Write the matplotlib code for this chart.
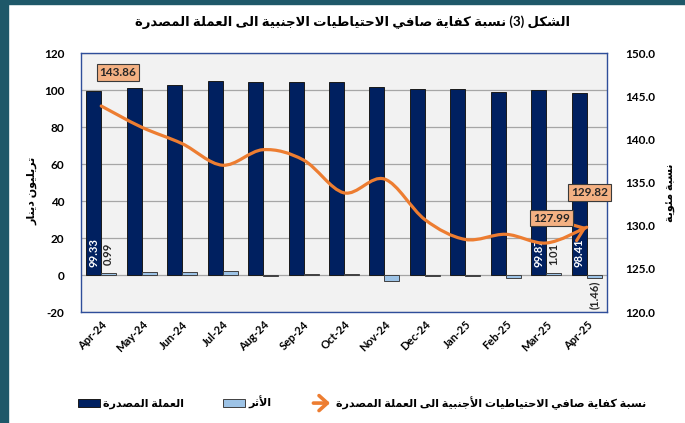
import numpy as np
import matplotlib
matplotlib.use('Agg')
import matplotlib.pyplot as plt
from matplotlib.path import Path
from matplotlib.patches import PathPatch, Rectangle, FancyArrowPatch
from matplotlib.legend_handler import HandlerBase

plt.rcParams['font.family'] = ['Lato', 'DejaVu Sans']
plt.rcParams['axes.unicode_minus'] = False

# ---------------- datos ----------------
meses = ['Apr-24', 'May-24', 'Jun-24', 'Jul-24', 'Aug-24', 'Sep-24', 'Oct-24',
         'Nov-24', 'Dec-24', 'Jan-25', 'Feb-25', 'Mar-25', 'Apr-25']
moneda = [99.33, 101.2, 102.6, 104.6, 104.3, 104.3, 104.3,
          101.5, 100.5, 100.4, 98.9, 99.87, 98.41]
efecto = [0.99, 1.6, 1.6, 2.0, -0.5, 0.3, 0.3,
          -3.0, -0.8, -0.4, -1.5, 1.01, -1.46]
ratio = [143.86, 141.4, 139.5, 137.0, 138.8, 137.6, 133.8,
         135.4, 130.7, 128.4, 129.0, 127.99, 129.82]

titulo = 'الشكل (3) نسبة كفاية صافي الاحتياطيات الاجنبية الى العملة المصدرة'
eje_izq = 'تريليون دينار'
eje_der = 'نسبة مئوية'
leyenda = ['العملة المصدرة', 'الأثر',
           'نسبة كفاية صافي الاحتياطيات الأجنبية الى العملة المصدرة']

# ---------------- arabe (formas de presentacion + orden visual) ----------------
dual = {'ئ': 0xFE89, 'ب': 0xFE8F, 'ت': 0xFE95, 'ث': 0xFE99, 'ج': 0xFE9D, 'ح': 0xFEA1,
        'خ': 0xFEA5, 'س': 0xFEB1, 'ش': 0xFEB5, 'ص': 0xFEB9, 'ض': 0xFEBD, 'ط': 0xFEC1,
        'ظ': 0xFEC5, 'ع': 0xFEC9, 'غ': 0xFECD, 'ف': 0xFED1, 'ق': 0xFED5, 'ك': 0xFED9,
        'ل': 0xFEDD, 'م': 0xFEE1, 'ن': 0xFEE5, 'ه': 0xFEE9, 'ي': 0xFEF1}
derecha = {'آ': 0xFE81, 'أ': 0xFE83, 'ؤ': 0xFE85, 'إ': 0xFE87, 'ا': 0xFE8D, 'ة': 0xFE93,
           'د': 0xFEA9, 'ذ': 0xFEAB, 'ر': 0xFEAD, 'ز': 0xFEAF, 'و': 0xFEED, 'ى': 0xFEEF}
lamalef = {'آ': 0xFEF5, 'أ': 0xFEF7, 'إ': 0xFEF9, 'ا': 0xFEFB}


def ar(texto):
    c = list(texto)
    n = len(c)
    out = []
    i = 0
    while i < n:
        prev = c[i-1] if i > 0 else ''
        liga_prev = prev in dual
        if c[i] == 'ل' and i+1 < n and c[i+1] in lamalef:
            out.append(chr(lamalef[c[i+1]] + (1 if liga_prev else 0)))
            i += 2
            continue
        if c[i] in dual:
            nxt = c[i+1] if i+1 < n else ''
            liga_sig = nxt in dual or nxt in derecha
            forma = 3 if (liga_prev and liga_sig) else 2 if liga_sig else 1 if liga_prev else 0
            out.append(chr(dual[c[i]] + forma))
        elif c[i] in derecha:
            out.append(chr(derecha[c[i]] + (1 if liga_prev else 0)))
        else:
            out.append(c[i])
        i += 1
    return ''.join(reversed(out)).translate(str.maketrans('()', ')('))


class FlechaHandler(HandlerBase):
    def create_artists(self, legend, orig_handle, xd, yd, w, h, fs, trans):
        a = FancyArrowPatch((-xd, h/2 - yd), (w - xd, h/2 - yd),
                            arrowstyle='->,head_length=0.5,head_width=0.45',
                            mutation_scale=12, lw=2.6, color='#ED7D31',
                            transform=trans)
        return [a]


naranja = '#ED7D31'
azul = '#002060'
celeste = '#9DC3E6'

fig = plt.figure(figsize=(6.85, 4.23), dpi=100)
fig.patches.append(Rectangle((0, 0), 8/685, 1, transform=fig.transFigure,
                             color='#1E5869', zorder=0))
fig.patches.append(Rectangle((0, 1 - 4/423), 1, 4/423, transform=fig.transFigure,
                             color='#1E5869', zorder=0))

ax = fig.add_axes([81/685, 111/423, 526/685, 259/423])
ax2 = ax.twinx()
ax.set_zorder(1)
ax2.set_zorder(2)
ax.set_facecolor('#F2F2F2')
ax2.patch.set_visible(False)

x = np.arange(len(meses))
w = 0.37
ax.bar(x - w/2, moneda, w, color=azul, edgecolor='#1a1a1a', lw=0.7, zorder=3)
ax.bar(x + w/2, efecto, w, color=celeste, edgecolor='#404040', lw=0.7, zorder=3)

ax.set_ylim(-20, 120)
ax.set_yticks(np.arange(-20, 121, 20))
ax.set_xlim(-0.5, len(meses) - 0.5)
ax.set_xticks(x)
ax.set_xticklabels(meses, rotation=45, ha='right', rotation_mode='anchor',
                   fontsize=8, fontweight='bold')
ax.grid(axis='y', color='#A6A6A6', lw=0.9, zorder=0)
ax.tick_params(axis='both', length=0)
ax.tick_params(axis='y', labelsize=8.5, pad=12)
ax.tick_params(axis='x', pad=5)
for t in ax.get_yticklabels():
    t.set_fontweight('bold')
for s in ax.spines.values():
    s.set_color('#2F4E9A')
    s.set_linewidth(1.0)

ax2.set_ylim(120, 150)
ax2.set_yticks(np.arange(120, 151, 5))
ax2.set_yticklabels(['%.1f' % v for v in np.arange(120, 151, 5)],
                    fontsize=8.5, fontweight='bold')
ax2.tick_params(axis='y', length=0, pad=13)
for s in ax2.spines.values():
    s.set_visible(False)

# curva suavizada (bezier tipo catmull-rom) con flecha al final
pts = np.column_stack([x, ratio])
verts = [pts[0]]
codes = [Path.MOVETO]
for i in range(len(pts) - 1):
    p0 = pts[i-1] if i > 0 else pts[i]
    p3 = pts[i+2] if i + 2 < len(pts) else pts[i+1]
    c1 = pts[i] + (pts[i+1] - p0) / 6
    c2 = pts[i+1] - (p3 - pts[i]) / 6
    verts += [c1, c2, pts[i+1]]
    codes += [Path.CURVE4] * 3
ax2.add_patch(PathPatch(Path(verts, codes), fill=False, ec=naranja, lw=2.3,
                        capstyle='round', zorder=5))
ax2.annotate('', xy=pts[-1], xytext=verts[-2],
             arrowprops=dict(arrowstyle='->,head_length=0.6,head_width=0.45',
                             color=naranja, lw=2.3, mutation_scale=14,
                             shrinkA=0, shrinkB=0), zorder=6)

caja = dict(boxstyle='square,pad=0.25', fc='#F4B183', ec='#3a3a3a', lw=0.8)
for i, off in [(0, (12, 24)), (11, (4, 18)), (12, (2, 25))]:
    ax2.annotate('%.2f' % ratio[i], xy=(x[i], ratio[i]), xytext=off,
                 textcoords='offset points', ha='center', va='center',
                 fontsize=8.5, fontweight='bold', color='#262626', bbox=caja,
                 zorder=7)

# etiquetas de barras
for i in [0, 11, 12]:
    ax.annotate('%.2f' % moneda[i], xy=(x[i] - w/2, 0), xytext=(0, 6),
                textcoords='offset points', rotation=90, ha='center', va='bottom',
                fontsize=8, fontweight='bold', color='white', zorder=4)
for i in [0, 11]:
    ax.annotate('%.2f' % efecto[i], xy=(x[i] + w/2, 0), xytext=(0, 7),
                textcoords='offset points', rotation=90, ha='center', va='bottom',
                fontsize=8, fontweight='bold', color='#262626', zorder=4)
ax.annotate('(%.2f)' % abs(efecto[12]), xy=(x[12] + w/2, efecto[12]), xytext=(0, -2),
            textcoords='offset points', rotation=90, ha='center', va='top',
            fontsize=8, fontweight='bold', color='#262626', zorder=4)

fig.text(353/685, 1 - 22/423, ar(titulo), ha='center', va='center',
         fontsize=9.5, fontweight='bold')
fig.text(32/685, 1 - 191/423, ar(eje_izq), rotation=90, ha='center', va='center',
         fontsize=8, fontweight='bold')
fig.text(670/685, 1 - 193/423, ar(eje_der), rotation=90, ha='center', va='center',
         fontsize=8, fontweight='bold')

h1 = Rectangle((0, 0), 1, 1, fc=azul, ec='#1a1a1a', lw=0.7)
h2 = Rectangle((0, 0), 1, 1, fc=celeste, ec='#404040', lw=0.7)
h3 = FancyArrowPatch((0, 0), (1, 0))
fig.legend([h1, h2, h3], [ar(t) for t in leyenda], loc='center',
           bbox_to_anchor=(362/685, 20/423), ncol=3, frameon=False,
           prop=dict(size=8, weight='bold'), handlelength=2.0, handleheight=0.7,
           handletextpad=0.3, columnspacing=3.5,
           handler_map={FancyArrowPatch: FlechaHandler()})

fig.savefig('out.png', dpi=100)
